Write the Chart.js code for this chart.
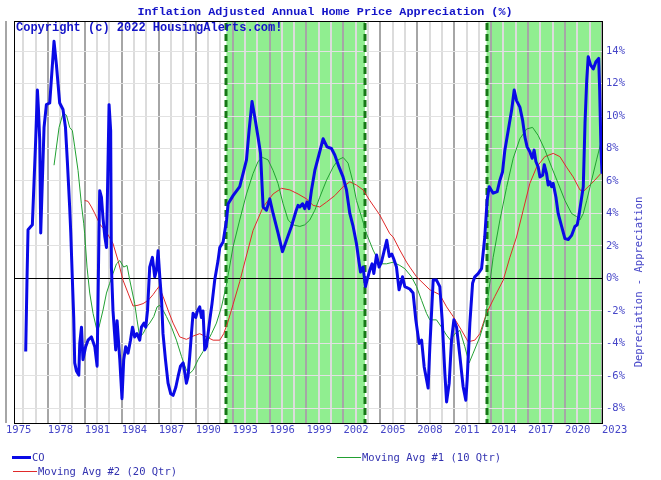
<!DOCTYPE html>
<html>
<head>
<meta charset="utf-8">
<script src="https://cdn.jsdelivr.net/npm/chart.js@4.4.0/dist/chart.umd.min.js"></script>
<style>
  html, body { margin: 0; padding: 0; background: #fff; }
</style>
</head>
<body>
<canvas id="chart" width="661" height="480"></canvas>
<script>
// CO - inflation adjusted annual home price appreciation (%)
const coYears = [1976.20, 1976.31, 1976.39, 1976.74, 1977.01, 1977.15, 1977.23, 1977.34, 1977.42, 1977.69,
  1977.88, 1978.15, 1978.50, 1978.69, 1978.96, 1979.23, 1979.43, 1979.59, 1979.77, 1979.86,
  1980.00, 1980.10, 1980.18, 1980.32, 1980.51, 1980.59, 1980.73, 1980.85, 1981.07, 1981.26,
  1981.54, 1981.81, 1982.00, 1982.15, 1982.21, 1982.35, 1982.48, 1982.62, 1982.76, 1982.97,
  1983.10, 1983.16, 1983.29, 1983.51, 1983.62, 1983.84, 1984.02, 1984.16, 1984.32, 1984.51,
  1984.71, 1984.87, 1985.05, 1985.24, 1985.46, 1985.60, 1985.81, 1985.95, 1986.09, 1986.27,
  1986.49, 1986.68, 1986.82, 1986.95, 1987.09, 1987.23, 1987.35, 1987.55, 1987.76, 1987.98,
  1988.17, 1988.39, 1988.57, 1988.77, 1988.98, 1989.12, 1989.25, 1989.38, 1989.52, 1989.66,
  1989.79, 1990.01, 1990.15, 1990.33, 1990.47, 1990.60, 1990.74, 1990.88, 1991.01, 1991.15,
  1991.33, 1991.55, 1991.82, 1991.96, 1992.23, 1992.51, 1992.64, 1993.04, 1993.58, 1993.85,
  1994.13, 1994.34, 1994.58, 1994.80, 1995.07, 1995.27, 1995.48, 1995.75, 1996.02, 1996.29,
  1996.69, 1997.05, 1997.38, 1997.78, 1998.13, 1998.32, 1998.46, 1998.68, 1998.86, 1999.05,
  1999.21, 1999.41, 1999.68, 1999.94, 2000.35, 2000.67, 2001.03, 2001.30, 2001.65, 2001.97,
  2002.25, 2002.52, 2002.79, 2003.06, 2003.27, 2003.39, 2003.60, 2003.79, 2003.92, 2004.14,
  2004.33, 2004.47, 2004.69, 2004.90, 2005.09, 2005.28, 2005.52, 2005.73, 2005.93, 2006.09,
  2006.31, 2006.52, 2006.80, 2006.99, 2007.39, 2007.66, 2007.88, 2008.15, 2008.35, 2008.56,
  2008.88, 2009.02, 2009.29, 2009.56, 2009.83, 2010.02, 2010.24, 2010.38, 2010.59, 2010.78,
  2010.97, 2011.19, 2011.46, 2011.72, 2011.94, 2012.05, 2012.27, 2012.49, 2012.67, 2012.94,
  2013.22, 2013.48, 2013.67, 2013.84, 2014.16, 2014.49, 2014.71, 2014.92, 2015.11, 2015.38,
  2015.66, 2015.87, 2016.06, 2016.33, 2016.55, 2016.74, 2016.92, 2017.14, 2017.33, 2017.49,
  2017.63, 2017.82, 2017.96, 2018.18, 2018.31, 2018.50, 2018.63, 2018.77, 2018.91, 2019.04,
  2019.26, 2019.44, 2019.72, 2019.99, 2020.26, 2020.53, 2020.80, 2020.99, 2021.15, 2021.35,
  2021.48, 2021.62, 2021.76, 2021.88, 2022.07, 2022.29, 2022.51, 2022.73, 2022.81, 2022.92,
  2023.00];
const coValues = [-4.5, 0.1, 3.0, 3.3, 8.5, 11.6, 10.5, 8.5, 2.8, 9.3,
  10.7, 10.8, 14.6, 13.2, 10.8, 10.4, 9.3, 7.1, 4.4, 2.8,
  -0.3, -2.4, -5.2, -5.7, -5.95, -4.0, -3.0, -5.0, -4.2, -3.8,
  -3.6, -4.2, -5.4, 2.8, 5.4, 5.0, 3.7, 2.6, 1.9, 10.7,
  9.1, 0.7, -2.0, -4.4, -2.6, -5.0, -7.4, -5.0, -4.2, -4.6,
  -3.8, -3.0, -3.6, -3.4, -3.8, -3.0, -2.75, -3.0, -2.0, 0.7,
  1.3, 0.1, 0.5, 1.7, 0.1, -1.3, -3.4, -5.0, -6.45, -7.1,
  -7.2, -6.7, -6.05, -5.4, -5.2, -5.8, -6.45, -6.05, -4.8, -3.4,
  -2.15, -2.4, -2.0, -1.75, -2.4, -2.0, -4.4, -4.2, -3.4, -2.55,
  -1.55, -0.1, 1.1, 1.9, 2.25, 3.6, 4.6, 5.1, 5.65, 6.45,
  7.3, 9.1, 10.9, 9.95, 8.7, 7.7, 4.4, 4.2, 4.9, 4.0,
  2.8, 1.65, 2.35, 3.2, 4.1, 4.5, 4.4, 4.6, 4.3, 4.7,
  4.3, 5.45, 6.65, 7.4, 8.6, 8.1, 8.0, 7.6, 6.85, 6.25,
  5.45, 4.0, 3.2, 2.15, 1.0, 0.4, 0.7, -0.5, -0.1, 0.5,
  0.9, 0.3, 1.45, 0.7, 1.0, 1.6, 2.35, 1.35, 1.5, 1.2,
  0.7, -0.7, 0.1, -0.5, -0.65, -0.9, -2.55, -4.0, -3.8, -5.45,
  -6.75, -4.2, -0.1, -0.1, -0.5, -2.55, -5.85, -7.6, -6.45, -3.8,
  -2.55, -3.0, -4.8, -6.65, -7.5, -6.25, -2.75, -0.3, 0.1, 0.3,
  0.6, 2.55, 4.8, 5.65, 5.25, 5.35, 6.05, 6.55, 7.9, 9.1,
  10.35, 11.6, 10.95, 10.55, 9.75, 8.7, 8.1, 7.8, 7.4, 7.9,
  7.2, 6.85, 6.25, 6.35, 7.0, 6.45, 5.75, 5.95, 5.65, 5.85,
  5.0, 4.0, 3.2, 2.45, 2.4, 2.65, 3.2, 3.3, 4.0, 5.0,
  5.65, 9.55, 12.2, 13.65, 13.15, 12.9, 13.35, 13.55, 11.6, 7.9,
  6.45];

// Moving Avg #1 (10 Qtr)
const ma10Years = [1978.50, 1978.91, 1979.23, 1979.51, 1979.77, 1979.99, 1980.18, 1980.45, 1980.72, 1980.91,
  1980.99, 1981.18, 1981.40, 1981.67, 1981.99, 1982.15, 1982.48, 1982.76, 1983.02, 1983.29,
  1983.57, 1983.84, 1984.16, 1984.43, 1984.65, 1984.87, 1985.05, 1985.24, 1985.46, 1985.73,
  1986.00, 1986.27, 1986.60, 1986.87, 1987.09, 1987.35, 1987.63, 1988.04, 1988.44, 1988.85,
  1989.25, 1989.52, 1989.79, 1990.20, 1990.60, 1990.88, 1991.29, 1991.69, 1992.10, 1992.50,
  1993.04, 1993.58, 1994.13, 1994.66, 1995.07, 1995.43, 1995.88, 1996.29, 1996.69, 1997.10,
  1997.51, 1997.91, 1998.46, 1998.86, 1999.27, 1999.68, 2000.08, 2000.63, 2001.16, 2001.57,
  2001.98, 2002.38, 2002.74, 2003.06, 2003.47, 2003.88, 2004.41, 2004.96, 2005.50, 2006.04,
  2006.58, 2006.99, 2007.53, 2007.94, 2008.35, 2008.75, 2009.02, 2009.56, 2009.97, 2010.38,
  2010.70, 2011.05, 2011.46, 2011.86, 2012.21, 2012.54, 2013.08, 2013.57, 2013.75, 2014.16,
  2014.71, 2015.25, 2015.79, 2016.33, 2016.88, 2017.36, 2017.82, 2018.37, 2018.91, 2019.44,
  2019.99, 2020.53, 2020.94, 2021.21, 2021.48, 2021.76, 2022.16, 2022.56, 2022.89];
const ma10Values = [6.97, 9.3, 10.15, 10.05, 9.3, 9.1, 8.1, 6.65, 4.6, 3.4,
  2.75, 0.7, -0.9, -2.15, -3.2, -3.0, -1.95, -0.9, -0.3, 0.3,
  0.9, 1.1, 0.7, 0.8, -0.1, -0.9, -1.55, -2.55, -3.6, -3.4,
  -3.0, -2.75, -2.35, -1.75, -1.65, -1.95, -2.35, -3.0, -3.8, -4.8,
  -5.65, -5.85, -5.65, -5.0, -4.5, -4.0, -3.4, -2.75, -1.75, -0.4,
  1.95, 3.6, 5.2, 6.45, 7.2, 7.45, 7.3, 6.65, 5.85, 4.6,
  3.6, 3.3, 3.2, 3.3, 3.6, 4.2, 5.0, 6.05, 6.85, 7.3,
  7.45, 7.1, 6.05, 4.8, 3.8, 2.75, 1.75, 0.9, 0.9, 1.0,
  0.8, 0.6, 0.1, -0.5, -1.35, -2.15, -2.55, -2.55, -3.0, -3.5,
  -3.8, -3.4, -3.2, -4.2, -5.2, -4.6, -3.6, -2.35, -1.1, 1.3,
  3.6, 5.6, 7.4, 8.6, 9.2, 9.3, 8.8, 7.9, 6.85, 5.85,
  4.8, 4.0, 3.8, 3.6, 4.0, 4.8, 6.05, 7.3, 8.3];

// Moving Avg #2 (20 Qtr)
const ma20Years = [1980.99, 1981.26, 1981.54, 1981.81, 1982.21, 1982.76, 1983.29, 1983.70, 1984.10, 1984.51,
  1984.92, 1985.32, 1985.73, 1986.14, 1986.54, 1986.82, 1987.03, 1987.35, 1987.76, 1988.17,
  1988.71, 1989.25, 1989.79, 1990.33, 1990.88, 1991.42, 1991.96, 1992.28, 1992.61, 1993.04,
  1993.58, 1993.85, 1994.66, 1995.48, 1996.29, 1996.97, 1997.65, 1998.32, 1999.00, 1999.54,
  2000.08, 2000.63, 2001.30, 2001.98, 2002.52, 2003.06, 2003.60, 2004.14, 2004.96, 2005.77,
  2006.04, 2006.58, 2007.13, 2007.39, 2007.94, 2008.21, 2009.02, 2009.83, 2010.38, 2010.92,
  2011.60, 2012.13, 2012.67, 2013.08, 2013.62, 2014.30, 2014.98, 2015.52, 2016.06, 2016.60,
  2017.14, 2017.69, 2018.36, 2019.04, 2019.58, 2020.12, 2020.66, 2021.21, 2021.48, 2021.88,
  2022.42, 2022.89];
const ma20Values = [4.8, 4.75, 4.4, 4.0, 3.35, 2.85, 2.15, 1.1, -0.1, -0.9,
  -1.7, -1.65, -1.55, -1.35, -1.0, -0.7, -0.5, -1.1, -1.95, -2.75,
  -3.6, -3.75, -3.55, -3.4, -3.6, -3.8, -3.8, -3.4, -2.7, -1.6,
  -0.2, 0.6, 2.95, 4.4, 5.2, 5.55, 5.45, 5.2, 4.9, 4.5,
  4.4, 4.7, 5.1, 5.65, 5.95, 5.75, 5.45, 4.8, 3.9, 2.75,
  2.55, 1.75, 1.0, 0.7, 0.1, -0.1, -0.7, -1.0, -1.75, -2.35,
  -3.2, -3.9, -3.8, -3.4, -2.15, -1.1, -0.1, 1.3, 2.55, 4.2,
  5.85, 6.85, 7.5, 7.7, 7.5, 6.85, 6.25, 5.45, 5.35, 5.65,
  6.05, 6.45];

// green shaded periods
const bandStarts = [1992.5, 2013.625];
const bandEnds = [2003.75, 2023];

const yTickValues = [-8, -6, -4, -2, 0, 2, 4, 6, 8, 10, 12, 14];
const xLabelYears = [1975, 1978, 1981, 1984, 1987, 1990, 1993, 1996, 1999, 2002, 2005, 2008, 2011, 2014, 2017, 2020, 2023];

const pts = (xs, ys) => xs.map((x, i) => ({ x: x, y: ys[i] }));

const monoBold = 'bold 11.8px "Liberation Mono", "DejaVu Sans Mono", monospace';
const tickFont = { family: '"DejaVu Sans Mono", monospace', size: 10.5 };

const decorPlugin = {
  id: 'decor',
  beforeDraw(chart) {
    const { ctx, chartArea: a, scales: { x } } = chart;
    ctx.save();
    ctx.fillStyle = '#90ee90';
    bandStarts.forEach((s, i) => {
      const x1 = x.getPixelForValue(s), x2 = x.getPixelForValue(bandEnds[i]);
      ctx.fillRect(x1, a.top, x2 - x1, a.bottom - a.top);
    });
    ctx.restore();
  },
  beforeDatasetsDraw(chart) {
    const { ctx, chartArea: a, scales: { x } } = chart;
    ctx.save();
    ctx.strokeStyle = '#167816';
    ctx.lineWidth = 3;
    ctx.setLineDash([7, 4]);
    const edges = [bandStarts[0], bandEnds[0], bandStarts[1]];
    edges.forEach(v => {
      const px = Math.round(x.getPixelForValue(v));
      ctx.beginPath();
      ctx.moveTo(px, a.top + 2);
      ctx.lineTo(px, a.bottom);
      ctx.stroke();
    });
    ctx.restore();
  },
  afterDraw(chart) {
    const { ctx, chartArea: a } = chart;
    ctx.save();
    // frame
    ctx.strokeStyle = '#000';
    ctx.lineWidth = 1;
    ctx.strokeRect(Math.round(a.left) + 0.5, Math.round(a.top) + 0.5,
      Math.round(a.right - a.left), Math.round(a.bottom - a.top));

    // title + copyright
    ctx.font = monoBold;
    ctx.fillStyle = '#1414c8';
    ctx.textBaseline = 'middle';
    ctx.textAlign = 'center';
    ctx.fillText('Inflation Adjusted Annual Home Price Appreciation (%)', 325, 12);
    ctx.textAlign = 'left';
    ctx.font = 'bold 12px "Liberation Mono", "DejaVu Sans Mono", monospace';
    ctx.fillText('Copyright (c) 2022 HousingAlerts.com!', 16, 28);

    // right axis title, reading upwards
    ctx.save();
    ctx.translate(639, 282);
    ctx.rotate(-Math.PI / 2);
    ctx.textAlign = 'center';
    ctx.font = '10.5px "DejaVu Sans Mono", monospace';
    ctx.fillStyle = '#4646c8';
    ctx.fillText('Depreciation - Appreciation', 0, 0);
    ctx.restore();

    // legend
    const ds = chart.data.datasets;
    const spots = [[12, 31, 457], [337, 361, 457], [13, 37, 471]];
    ctx.font = '10.5px "DejaVu Sans Mono", monospace';
    ctx.textAlign = 'left';
    ds.forEach((d, i) => {
      const [x1, x2, y] = spots[i];
      ctx.strokeStyle = d.borderColor;
      ctx.lineWidth = d.borderWidth;
      ctx.beginPath();
      ctx.moveTo(x1, y + 0.5);
      ctx.lineTo(x2, y + 0.5);
      ctx.stroke();
      ctx.fillStyle = '#3232b0';
      ctx.fillText(d.label, x2 + 1, y + 1);
    });
    ctx.restore();
  }
};

new Chart(document.getElementById('chart'), {
  type: 'line',
  data: {
    datasets: [
      { label: 'CO', data: pts(coYears, coValues), borderColor: '#0a0ae6', borderWidth: 3 },
      { label: 'Moving Avg #1 (10 Qtr)', data: pts(ma10Years, ma10Values), borderColor: '#22a032', borderWidth: 1 },
      { label: 'Moving Avg #2 (20 Qtr)', data: pts(ma20Years, ma20Values), borderColor: '#e02a2a', borderWidth: 1 }
    ]
  },
  options: {
    responsive: false,
    animation: false,
    devicePixelRatio: 1,
    layout: { padding: { top: 21, left: 14, right: 0, bottom: 37 } },
    elements: { point: { radius: 0 }, line: { tension: 0, borderJoinStyle: 'round' } },
    plugins: { legend: { display: false }, tooltip: { enabled: false } },
    scales: {
      x: {
        type: 'linear',
        min: 1975.25,
        max: 2023,
        afterBuildTicks(scale) {
          const t = [{ value: 1974.6 }]; // 1975 label/line sits just left of the frame
          for (let y = 1976; y <= 2023; y++) t.push({ value: y });
          scale.ticks = t;
        },
        afterFit(scale) { scale.height = 20; },
        ticks: {
          autoSkip: false,
          maxRotation: 0,
          align: 'start',
          padding: 1,
          font: tickFont,
          color: '#4646c8',
          callback(v) {
            if (v < 1975) return String(xLabelYears[0]);
            return xLabelYears.includes(v) ? String(v) : '';
          }
        },
        grid: {
          drawTicks: false,
          lineWidth: 2,
          color(c) {
            const v = c.tick && c.tick.value;
            return (v < 1975 || xLabelYears.includes(v)) ? '#a6a6a6' : '#dcdcdc';
          }
        },
        border: { display: false }
      },
      y: {
        type: 'linear',
        position: 'right',
        min: -8.9,
        max: 15.85,
        afterBuildTicks(scale) { scale.ticks = yTickValues.map(v => ({ value: v })); },
        afterFit(scale) { scale.width = 59; },
        ticks: {
          padding: 4,
          font: tickFont,
          color: '#4646c8',
          callback: v => v + '%'
        },
        grid: {
          drawTicks: false,
          lineWidth: 1,
          color: c => (c.tick && c.tick.value === 0) ? '#000' : '#e2e2e2'
        },
        border: { display: false }
      }
    }
  },
  plugins: [decorPlugin]
});
</script>
</body>
</html>
